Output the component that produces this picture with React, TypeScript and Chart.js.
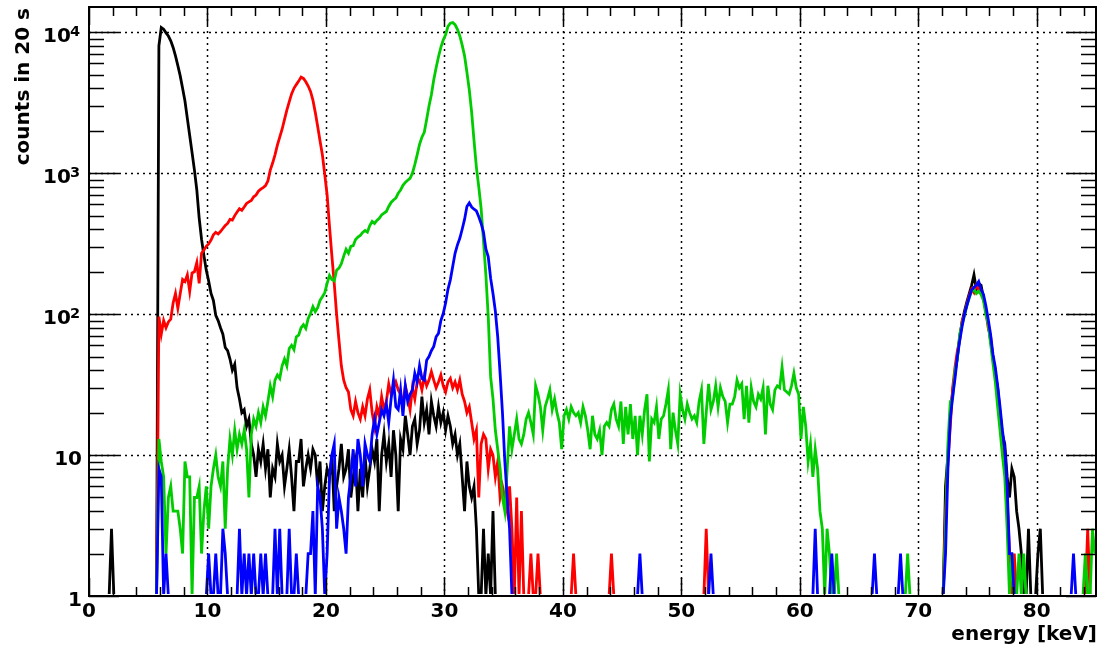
import React, { useEffect, useRef } from "react";
import { Chart, registerables } from "chart.js";

Chart.register(...registerables);

// Histogram binning: 0.2 keV bins, each row below holds 5 keV (25 bins).
const binWidth = 0.2;
const rowSpan = 5;

const xMin = 0;
const xMax = 85;
const yMin = 1;
const yMax = 15100;

const xMajorTicks = [0, 10, 20, 30, 40, 50, 60, 70, 80];
const xTickLabels = ["0", "10", "20", "30", "40", "50", "60", "70", "80"];
const xMinorStep = 2;
const yMajorTicks = [1, 10, 100, 1000, 10000];
const yTickBase = ["1", "10", "10", "10", "10"];
const yTickExponent = ["", "", "2", "3", "4"];

const xTitle = "energy [keV]";
const yTitle = "counts in 20 s";

const emptyRow = [0, 0, 0, 0, 0, 0, 0, 0, 0, 0, 0, 0, 0, 0, 0, 0, 0, 0, 0, 0, 0, 0, 0, 0, 0];

// counts per bin, one row per 5 keV
const blackCounts: number[][] = [
  [0, 0, 0, 0, 0, 0, 0, 0, 0, 3, 0, 0, 0, 0, 0, 0, 0, 0, 0, 0, 0, 0, 0, 0, 0],
  [0, 0, 0, 0, 8000, 10800, 10500, 9900, 9400, 8700, 7800, 6800, 5800, 4900, 4000, 3250, 2450, 1850, 1400, 1050, 760, 480, 340, 260, 205],
  [172, 140, 125, 98, 90, 80, 72, 58, 55, 48, 40, 44, 30, 25, 20, 21, 16, 18, 12, 10, 7, 11, 9, 12, 8],
  [11, 5, 8, 7, 12, 9, 10, 6, 8, 11, 7, 4, 9, 9, 13, 6, 8, 10, 8, 11, 10, 6, 9, 4, 6],
  [8, 7, 10, 4, 6, 8, 12, 7, 8, 11, 5, 7, 9, 4, 8, 5, 10, 6, 8, 11, 9, 13, 4, 10, 14],
  [9, 12, 7, 15, 10, 4, 13, 11, 19, 14, 10, 16, 18, 12, 15, 26, 17, 21, 14, 24, 19, 16, 22, 17, 20],
  [15, 19, 16, 12, 14, 10, 12, 7, 4, 9, 6, 5, 6, 3, 0, 0, 3, 0, 2, 0, 4, 0, 0, 0, 0],
  emptyRow,
  emptyRow,
  emptyRow,
  emptyRow,
  emptyRow,
  emptyRow,
  emptyRow,
  [0, 0, 0, 0, 0, 0, 0, 0, 0, 0, 0, 6, 10, 20, 28, 38, 50, 70, 88, 105, 122, 140, 160, 190, 150],
  [165, 160, 130, 108, 85, 65, 50, 38, 30, 20, 14, 12, 7, 5, 8, 7, 4, 3, 2, 0, 0, 3, 0, 0, 0],
  [2, 3, 0, 0, 0, 0, 0, 0, 0, 0, 0, 0, 0, 0, 0, 0, 0, 0, 0, 0, 0, 0, 0, 0, 0],
];

const redCounts: number[][] = [
  emptyRow,
  [0, 0, 0, 0, 96, 72, 90, 80, 88, 92, 120, 140, 110, 140, 176, 170, 190, 145, 196, 200, 232, 165, 270, 285, 303],
  [315, 335, 365, 380, 370, 385, 405, 425, 440, 470, 465, 500, 530, 560, 545, 575, 610, 625, 640, 680, 700, 745, 770, 790, 815],
  [880, 1050, 1180, 1350, 1580, 1800, 2050, 2400, 2800, 3200, 3650, 4000, 4250, 4500, 4800, 4700, 4450, 4150, 3800, 3300, 2700, 2150, 1700, 1350, 980],
  [700, 420, 260, 165, 100, 65, 43, 34, 30, 28, 21, 19, 24, 20, 18, 22, 19, 25, 29, 20, 16, 22, 19, 26, 21],
  [24, 32, 27, 30, 33, 29, 27, 23, 31, 26, 21, 30, 25, 33, 34, 29, 36, 31, 34, 39, 34, 30, 33, 37, 31],
  [28, 33, 35, 30, 33, 29, 34, 27, 24, 20, 22, 17, 13, 15, 5, 12, 14, 13, 8, 11, 10, 7, 9, 5, 6],
  [5, 4, 6, 3, 0, 5, 0, 4, 0, 0, 0, 2, 0, 0, 2, 0, 0, 0, 0, 0, 0, 0, 0, 0, 0],
  [0, 0, 0, 0, 2, 0, 0, 0, 0, 0, 0, 0, 0, 0, 0, 0, 0, 0, 0, 0, 2, 0, 0, 0, 0],
  emptyRow,
  [0, 0, 0, 0, 0, 0, 0, 0, 0, 0, 3, 0, 0, 0, 0, 0, 0, 0, 0, 0, 0, 0, 0, 0, 0],
  emptyRow,
  emptyRow,
  emptyRow,
  [0, 0, 0, 0, 0, 0, 0, 0, 0, 0, 0, 4, 9, 16, 30, 42, 55, 66, 90, 100, 118, 135, 150, 142, 160],
  [150, 148, 130, 105, 80, 70, 48, 40, 27, 20, 12, 9, 5, 2, 0, 2, 0, 0, 0, 0, 0, 0, 0, 0, 0],
  [0, 0, 0, 0, 0, 0, 0, 0, 0, 0, 0, 0, 0, 0, 0, 0, 0, 0, 0, 0, 0, 3, 0, 0, 0],
];

const greenCounts: number[][] = [
  emptyRow,
  [0, 0, 0, 0, 13, 9, 7, 2, 5, 6, 4, 4, 4, 3, 2, 9, 7, 7, 0, 5, 5, 6, 2, 4, 6],
  [3, 6, 8, 10, 7, 6, 9, 3, 8, 13, 10, 15, 11, 14, 12, 15, 11, 5, 14, 18, 16, 20, 17, 22, 19],
  [24, 31, 26, 34, 37, 35, 43, 48, 43, 57, 60, 56, 69, 71, 80, 84, 79, 93, 101, 113, 104, 111, 125, 133, 142],
  [165, 188, 176, 172, 205, 212, 228, 258, 288, 270, 302, 306, 338, 352, 362, 380, 392, 382, 425, 455, 440, 462, 478, 505, 520],
  [535, 580, 620, 645, 665, 720, 760, 820, 860, 890, 920, 1000, 1150, 1350, 1600, 1800, 1950, 2400, 3000, 3600, 4600, 5600, 6700, 7800, 8800],
  [9600, 11000, 11600, 11700, 11300, 10500, 9400, 8100, 6800, 5200, 3900, 2700, 1700, 1100, 800, 560, 330, 190, 96, 36, 25, 15, 11, 8, 5],
  [4, 8, 16, 11, 14, 18, 13, 12, 14, 18, 20, 17, 14, 31, 27, 22, 15, 22, 25, 29, 21, 25, 20, 17, 11],
  [19, 21, 18, 22, 20, 19, 20, 17, 22, 19, 15, 11, 19, 14, 13, 15, 10, 16, 17, 16, 21, 23, 18, 16, 24],
  [12, 22, 14, 23, 13, 19, 10, 19, 14, 21, 27, 9, 18, 17, 22, 13, 18, 19, 23, 29, 11, 20, 15, 12, 27],
  [21, 18, 23, 20, 18, 19, 17, 24, 29, 12, 20, 32, 21, 24, 31, 22, 30, 26, 24, 17, 23, 23, 26, 34, 30],
  [32, 18, 31, 17, 30, 24, 22, 27, 25, 30, 14, 31, 23, 21, 29, 31, 30, 42, 29, 28, 27, 31, 38, 30, 27],
  [13, 22, 16, 9, 12, 7, 11, 8, 4, 3, 0, 3, 2, 0, 0, 2, 0, 0, 0, 0, 0, 0, 0, 0, 0],
  [0, 0, 0, 0, 0, 0, 0, 0, 0, 0, 0, 0, 0, 0, 0, 0, 0, 0, 0, 0, 2, 0, 0, 0, 0],
  [0, 0, 0, 0, 0, 0, 0, 0, 0, 0, 0, 3, 12, 24, 25, 40, 48, 72, 85, 98, 115, 130, 145, 150, 140],
  [145, 138, 125, 100, 85, 62, 45, 33, 22, 15, 10, 7, 3, 0, 2, 0, 0, 2, 0, 2, 0, 0, 0, 0, 0],
  [0, 0, 0, 0, 0, 0, 0, 0, 0, 0, 0, 0, 0, 0, 0, 0, 0, 0, 0, 0, 2, 0, 0, 3, 2],
];

const blueCounts: number[][] = [
  emptyRow,
  [0, 0, 0, 0, 8, 7, 0, 2, 0, 0, 0, 0, 0, 0, 0, 0, 0, 0, 0, 0, 0, 0, 0, 0, 0],
  [2, 0, 0, 2, 0, 0, 3, 2, 0, 0, 0, 0, 0, 3, 0, 2, 0, 2, 0, 2, 0, 0, 2, 0, 2],
  [0, 0, 0, 3, 0, 3, 0, 0, 0, 3, 0, 0, 2, 0, 0, 0, 0, 2, 2, 4, 0, 6, 5, 3, 1],
  [2, 7, 10, 12, 3, 5, 4, 3, 2, 5, 7, 11, 6, 13, 10, 6, 12, 10, 9, 14, 18, 14, 17, 21, 19],
  [23, 17, 25, 34, 22, 21, 29, 19, 31, 24, 27, 29, 38, 33, 43, 35, 34, 47, 50, 55, 59, 69, 73, 90, 101],
  [120, 150, 175, 218, 270, 310, 345, 400, 470, 580, 615, 575, 555, 540, 490, 440, 380, 290, 255, 180, 140, 105, 69, 38, 20],
  [9, 5, 3, 0, 0, 0, 0, 0, 0, 0, 0, 0, 0, 0, 0, 0, 0, 0, 0, 0, 0, 0, 0, 0, 0],
  emptyRow,
  [0, 0, 0, 0, 0, 0, 0, 2, 0, 0, 0, 0, 0, 0, 0, 0, 0, 0, 0, 0, 0, 0, 0, 0, 0],
  [0, 0, 0, 0, 0, 0, 0, 0, 0, 0, 0, 0, 2, 0, 0, 0, 0, 0, 0, 0, 0, 0, 0, 0, 0],
  emptyRow,
  [0, 0, 0, 0, 0, 0, 3, 0, 0, 0, 0, 0, 0, 2, 0, 0, 0, 0, 0, 0, 0, 0, 0, 0, 0],
  [0, 0, 0, 0, 0, 0, 2, 0, 0, 0, 0, 0, 0, 0, 0, 0, 0, 2, 0, 0, 0, 0, 0, 0, 0],
  [0, 0, 0, 0, 0, 0, 0, 0, 0, 0, 0, 2, 8, 18, 26, 35, 50, 65, 82, 100, 115, 132, 148, 155, 160],
  [170, 150, 138, 115, 92, 72, 52, 42, 31, 22, 15, 11, 6, 2, 2, 0, 0, 0, 0, 0, 0, 0, 0, 0, 0],
  [0, 0, 0, 0, 0, 0, 0, 0, 0, 0, 0, 0, 0, 0, 0, 2, 0, 0, 0, 0, 0, 0, 0, 0, 0],
];

const series = [
  { label: "black", counts: blackCounts, color: "#000000", order: 4 },
  { label: "red", counts: redCounts, color: "#ff0000", order: 3 },
  { label: "green", counts: greenCounts, color: "#00cc00", order: 2 },
  { label: "blue", counts: blueCounts, color: "#0000ff", order: 1 },
];

const FONT = "'DejaVu Sans', 'Liberation Sans', sans-serif";

// empty bins sit on the axis floor of the log scale
function toPoints(rows: number[][]) {
  const pts: { x: number; y: number }[] = [];
  rows.forEach((row, r) => {
    row.forEach((count, j) => {
      pts.push({ x: r * rowSpan + (j + 0.5) * binWidth, y: count > 0 ? count : yMin });
    });
  });
  return pts;
}

const rootStyleAxes = {
  id: "rootStyleAxes",
  beforeDatasetsDraw(chart: any) {
    const { ctx, chartArea: a, scales } = chart;
    const xs = scales.x;
    const ys = scales.y;
    ctx.save();
    ctx.strokeStyle = "#000";
    ctx.lineWidth = 1.5;
    ctx.setLineDash([2, 4]);
    ctx.beginPath();
    for (const v of xMajorTicks) {
      if (v <= xMin || v >= xMax) continue;
      const px = Math.round(xs.getPixelForValue(v)) + 0.5;
      ctx.moveTo(px, a.top);
      ctx.lineTo(px, a.bottom);
    }
    for (const v of yMajorTicks) {
      if (v <= yMin || v >= yMax) continue;
      const py = Math.round(ys.getPixelForValue(v)) + 0.5;
      ctx.moveTo(a.left, py);
      ctx.lineTo(a.right, py);
    }
    ctx.stroke();
    ctx.restore();
  },
  afterDatasetsDraw(chart: any) {
    const { ctx, chartArea: a, scales } = chart;
    const xs = scales.x;
    const ys = scales.y;
    ctx.save();
    ctx.strokeStyle = "#000";
    ctx.fillStyle = "#000";

    // ticks on all four sides, pointing inward
    ctx.lineWidth = 1.5;
    ctx.beginPath();
    for (let v = xMin; v <= xMax + 1e-9; v += xMinorStep) {
      const major = xMajorTicks.includes(v);
      const len = major ? 18 : 9;
      const px = Math.round(xs.getPixelForValue(v)) + 0.5;
      ctx.moveTo(px, a.bottom);
      ctx.lineTo(px, a.bottom - len);
      ctx.moveTo(px, a.top);
      ctx.lineTo(px, a.top + len);
    }
    for (const d of yMajorTicks) {
      for (let m = 1; m <= 9; m++) {
        const v = d * m;
        if (v > yMax) continue;
        const len = m === 1 ? 30 : 15;
        const py = Math.round(ys.getPixelForValue(v)) + 0.5;
        ctx.moveTo(a.left, py);
        ctx.lineTo(a.left + len, py);
        ctx.moveTo(a.right, py);
        ctx.lineTo(a.right - len, py);
      }
    }
    ctx.stroke();

    // frame
    ctx.lineWidth = 2;
    ctx.strokeRect(a.left, a.top, a.right - a.left, a.bottom - a.top);

    // x tick labels
    ctx.font = `bold 20px ${FONT}`;
    ctx.textAlign = "center";
    ctx.textBaseline = "alphabetic";
    xMajorTicks.forEach((v, i) => {
      ctx.fillText(xTickLabels[i], xs.getPixelForValue(v), a.bottom + 21);
    });

    // y tick labels with superscript exponents
    ctx.textAlign = "right";
    yMajorTicks.forEach((v, i) => {
      const py = ys.getPixelForValue(v);
      const exp = yTickExponent[i];
      if (exp) {
        ctx.font = `bold 14.5px ${FONT}`;
        const w = ctx.measureText(exp).width;
        ctx.fillText(exp, a.left - 9, py + 3.5);
        ctx.font = `bold 20px ${FONT}`;
        ctx.fillText(yTickBase[i], a.left - 9 - w + 1, py + 10);
      } else {
        ctx.font = `bold 20px ${FONT}`;
        ctx.fillText(yTickBase[i], a.left - 7, py + 9.5);
      }
    });

    // axis titles
    ctx.font = `bold 20px ${FONT}`;
    ctx.textAlign = "right";
    ctx.fillText(xTitle, a.right + 1, 640);
    ctx.translate(28.5, a.top + 1);
    ctx.rotate(-Math.PI / 2);
    ctx.textAlign = "right";
    ctx.fillText(yTitle, 0, 0);
    ctx.restore();
  },
};

export default function App() {
  const canvasRef = useRef<HTMLCanvasElement | null>(null);

  useEffect(() => {
    const canvas = canvasRef.current;
    if (!canvas) return;
    const chart = new Chart(canvas, {
      type: "line",
      data: {
        datasets: series.map((s) => ({
          label: s.label,
          data: toPoints(s.counts),
          borderColor: s.color,
          backgroundColor: s.color,
          borderWidth: 2.8,
          pointRadius: 0,
          tension: 0,
          fill: false,
          order: s.order,
          clip: { left: 0, top: 0, right: 0, bottom: -2 },
        })),
      },
      options: {
        animation: false,
        responsive: false,
        devicePixelRatio: 1,
        events: [],
        layout: { padding: { top: 7, right: 8, left: 0, bottom: 0 } },
        plugins: { legend: { display: false }, tooltip: { enabled: false } },
        scales: {
          x: {
            type: "linear",
            min: xMin,
            max: xMax,
            ticks: { display: false },
            grid: { display: false },
            border: { display: false },
            afterFit: (s: any) => {
              s.height = 59;
            },
          },
          y: {
            type: "logarithmic",
            min: yMin,
            max: yMax,
            ticks: { display: false },
            grid: { display: false },
            border: { display: false },
            afterFit: (s: any) => {
              s.width = 89;
            },
          },
        },
      } as any,
      plugins: [rootStyleAxes],
    });
    return () => chart.destroy();
  }, []);

  return (
    <div style={{ position: "fixed", left: 0, top: 0, width: 1104, height: 655, background: "#fff" }}>
      <canvas ref={canvasRef} width={1104} height={655} style={{ display: "block" }} />
    </div>
  );
}
